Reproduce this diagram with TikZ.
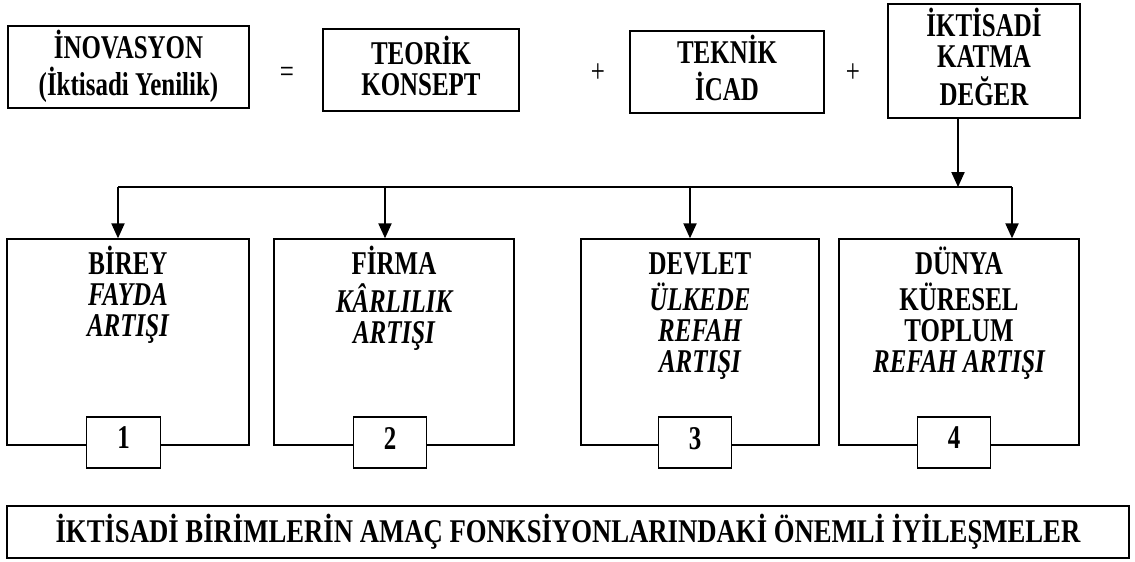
\documentclass[tikz,border=0pt]{standalone}
\usepackage{fontspec}
\setmainfont{Liberation Serif}
\usepackage{graphicx}
\usepackage{tikz}
\usetikzlibrary{arrows.meta,positioning,calc}
\newcommand{\boxfont}{\fontsize{14.2}{12.8}\selectfont}
\newcommand{\tall}[2][c]{\scalebox{1}[1.33]{\begin{tabular}[#1]{@{}c@{}}#2\end{tabular}}}

\begin{document}
\begin{tikzpicture}[
  box/.style={draw,line width=0.8pt,inner sep=0pt,align=center,font=\boxfont\bfseries},
  unitbox/.style={box,minimum width=4.8cm,minimum height=4.12cm},
  numbox/.style={box,fill=white,minimum width=1.47cm,minimum height=1.02cm},
  unittext/.style={anchor=base,inner sep=0pt,font=\boxfont\bfseries},
  sign/.style={inner sep=0pt,font=\boxfont},
  line/.style={draw,line width=0.8pt},
  arrow/.style={line,-{Triangle[length=8.5pt,width=7.5pt]}}
]
\useasboundingbox (0,0) rectangle (22.7,11.22);
\node[box,minimum width=4.82cm,minimum height=1.64cm] (inov) at (2.57,9.88) {\tall{İNOVASYON\\(İktisadi Yenilik)}};
\node[box,minimum width=3.92cm,minimum height=1.64cm] (teorik) at (8.42,9.82) {\tall{TEORİK\\KONSEPT}};
\node[box,minimum width=3.88cm,minimum height=1.64cm] (teknik) at (14.54,9.78) {\tall{TEKNİK\\İCAD}};
\node[box,minimum width=3.84cm,minimum height=2.28cm] (katma) at (19.68,10.0) {\tall{İKTİSADİ\\KATMA\\DEĞER}};
\node[sign] (eq) at (5.74,9.68) {\tall{=}};
\node[sign] (plus1) at (11.96,9.68) {\tall{+}};
\node[sign] (plus2) at (17.06,9.68) {\tall{+}};

\coordinate (j1) at (2.36,7.48);
\coordinate (j2) at (7.70,7.48);
\coordinate (j3) at (13.80,7.48);
\coordinate (j4) at (20.24,7.48);
\coordinate (jk) at (19.16,7.48);

\node[unitbox,minimum width=4.84cm] (b1) at (2.56,4.38) {};
\node[unitbox] (b2) at (7.88,4.38) {};
\node[unitbox,minimum width=4.76cm] (b3) at (14.00,4.38) {};
\node[unitbox] (b4) at (19.18,4.38) {};
\node[unittext] (t1) at ([yshift=-0.72cm]b1.north) {\tall[t]{BİREY\\\itshape FAYDA\\\itshape ARTIŞI}};
\node[unittext] (t2) at ([yshift=-0.72cm]b2.north) {\tall[t]{FİRMA\\\itshape KÂRLILIK\\\itshape ARTIŞI}};
\node[unittext] (t3) at ([yshift=-0.72cm]b3.north) {\tall[t]{DEVLET\\\itshape ÜLKEDE\\\itshape REFAH\\\itshape ARTIŞI}};
\node[unittext] (t4) at ([yshift=-0.72cm]b4.north) {\tall[t]{DÜNYA\\KÜRESEL\\TOPLUM\\\itshape REFAH ARTIŞI}};
\node[numbox] (n1) at (2.47,2.37) {\tall{1}};
\node[numbox] (n2) at (7.80,2.37) {\tall{2}};
\node[numbox] (n3) at (13.90,2.37) {\tall{3}};
\node[numbox] (n4) at (19.08,2.37) {\tall{4}};

\node[box,line width=1pt,minimum width=22.44cm,minimum height=1.04cm] (goal) at (11.36,0.58)
  {\scalebox{1}[1.24]{\fontsize{15.2}{13}\selectfont İKTİSADİ BİRİMLERİN AMAÇ FONKSİYONLARINDAKİ ÖNEMLİ İYİLEŞMELER}};

\draw[arrow] (katma.south -| jk) -- (jk);
\draw[line] (j1) -- (j4);
\draw[arrow] (j1) -- (j1 |- b1.north);
\draw[arrow] (j2) -- (j2 |- b2.north);
\draw[arrow] (j3) -- (j3 |- b3.north);
\draw[arrow] (j4) -- (j4 |- b4.north);
\end{tikzpicture}
\end{document}
